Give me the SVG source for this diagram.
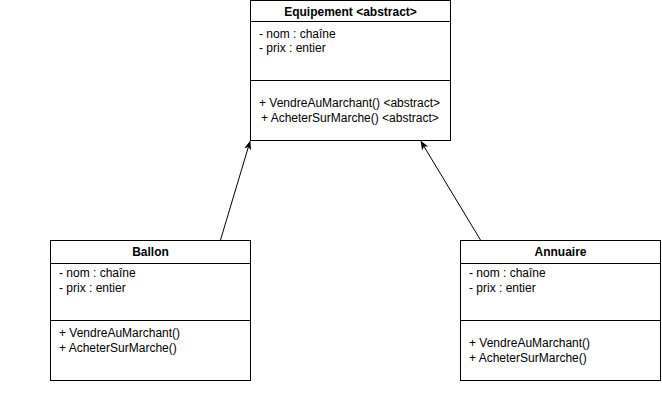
<svg xmlns="http://www.w3.org/2000/svg" width="662" height="411" viewBox="0 0 662 411">
<style>
.box{fill:#fff;stroke:#000;stroke-width:1}
.ln{stroke:#000;stroke-width:1;fill:none}
.t{font-family:"Liberation Sans",Arial,sans-serif;font-size:12px;fill:#000}
.h{font-family:"Liberation Sans",Arial,sans-serif;font-size:12px;font-weight:bold;fill:#000;text-anchor:middle}
</style>
<defs>
<marker id="arr" viewBox="0 0 10 10" refX="9" refY="5" markerWidth="9" markerHeight="9" markerUnits="userSpaceOnUse" orient="auto">
<path d="M0,1 L10,5 L0,9 L2.5,5 Z" fill="#000"/>
</marker>
</defs>
<rect width="662" height="411" fill="#fff"/>
<g id="connectors">
<line class="ln" x1="220.5" y1="240" x2="250" y2="141.5" marker-end="url(#arr)"/>
<line class="ln" x1="480.5" y1="240" x2="421" y2="141.5" marker-end="url(#arr)"/>
</g>
<g id="equipement">
<rect class="box" x="250.5" y="0.5" width="200" height="140"/>
<line class="ln" x1="250.5" y1="21.5" x2="450.5" y2="21.5"/>
<line class="ln" x1="250.5" y1="80.5" x2="450.5" y2="80.5"/>
<text class="h" x="350.5" y="16">Equipement &lt;abstract&gt;</text>
<text class="t" x="259" y="38">- nom : chaîne</text>
<text class="t" x="259" y="52">- prix : entier</text>
<text class="t" x="259" y="107">+ VendreAuMarchant() &lt;abstract&gt;</text>
<text class="t" x="261" y="122">+ AcheterSurMarche() &lt;abstract&gt;</text>
</g>
<g id="ballon">
<rect class="box" x="50.5" y="240.5" width="200" height="140"/>
<line class="ln" x1="50.5" y1="263.5" x2="250.5" y2="263.5"/>
<line class="ln" x1="50.5" y1="320.5" x2="250.5" y2="320.5"/>
<text class="h" x="150.5" y="256">Ballon</text>
<text class="t" x="59" y="277">- nom : chaîne</text>
<text class="t" x="59" y="292">- prix : entier</text>
<text class="t" x="59" y="337">+ VendreAuMarchant()</text>
<text class="t" x="59" y="352">+ AcheterSurMarche()</text>
</g>
<g id="annuaire">
<rect class="box" x="460.5" y="240.5" width="200" height="140"/>
<line class="ln" x1="460.5" y1="263.5" x2="660.5" y2="263.5"/>
<line class="ln" x1="460.5" y1="320.5" x2="660.5" y2="320.5"/>
<text class="h" x="560.5" y="256">Annuaire</text>
<text class="t" x="469" y="277">- nom : chaîne</text>
<text class="t" x="469" y="292">- prix : entier</text>
<text class="t" x="469" y="347">+ VendreAuMarchant()</text>
<text class="t" x="469" y="362">+ AcheterSurMarche()</text>
</g>
</svg>
